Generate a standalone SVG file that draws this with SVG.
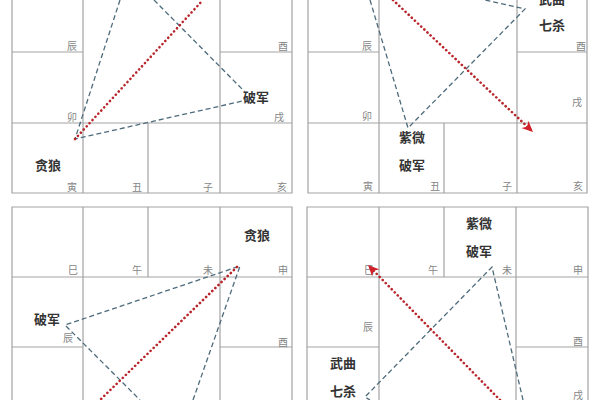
<svg xmlns="http://www.w3.org/2000/svg" width="600" height="400" viewBox="0 0 600 400">
<style>
.grid{stroke:#a3a3a3;stroke-width:1.2;fill:none}
.br{font-family:"Noto Sans CJK SC","Liberation Serif",serif;font-size:10px;fill:#858585;text-anchor:middle}
.star{font-family:"Noto Sans CJK SC","Liberation Sans",sans-serif;font-size:13px;font-weight:bold;fill:#333;text-anchor:middle}
.blue{stroke:#4d6b7b;stroke-width:1.3;fill:none;stroke-dasharray:5 3}
.red{stroke:#b8252b;stroke-width:2.6;fill:none;stroke-dasharray:0.1 4.2;stroke-linecap:round}
</style>
<defs>
<marker id="arr" markerUnits="userSpaceOnUse" markerWidth="12" markerHeight="10" refX="11" refY="5" orient="auto" viewBox="0 0 12 10">
<path d="M0,0 L11,5 L0,10 L3,5 z" fill="#d0222a"/>
</marker>
</defs>
<rect width="600" height="400" fill="#fff"/>

<g id="panel1">
<path class="grid" d="M12,0V193H292V0M83,0V193M220,0V193M148,123V193M12,52H83M220,52H292M12,123H292"/>
<text class="br" x="72" y="50">辰</text>
<text class="br" x="283" y="50">酉</text>
<text class="br" x="72" y="121">卯</text>
<text class="br" x="279" y="121">戌</text>
<text class="br" x="72" y="191">寅</text>
<text class="br" x="137" y="191">丑</text>
<text class="br" x="208" y="191">子</text>
<text class="br" x="282" y="191">亥</text>
<g id="p1-tanlang"><text class="star" x="48" y="170">贪狼</text></g>
<g id="p1-pojun"><text class="star" x="256" y="102">破军</text></g>
</g>

<g id="panel2">
<path class="grid" d="M308,0V193H587V0M379,0V193M517,0V193M444,123V193M308,52H379M517,52H587M308,123H587"/>
<text class="br" x="367" y="50">辰</text>
<text class="br" x="581" y="50">酉</text>
<text class="br" x="367" y="120">卯</text>
<text class="br" x="577" y="106">戌</text>
<text class="br" x="368" y="190">寅</text>
<text class="br" x="435" y="190">丑</text>
<text class="br" x="507" y="190">子</text>
<text class="br" x="578" y="190">亥</text>
<g id="p2-ziwei-pojun"><text class="star" x="412" y="142">紫微</text><text class="star" x="412" y="170">破军</text></g>
<g id="p2-wuqu-qisha"><text class="star" x="552" y="4">武曲</text><text class="star" x="552" y="30">七杀</text></g>
</g>

<g id="panel3">
<path class="grid" d="M12,400V207H292V400M83,207V400M220,207V400M148,207V277M12,277H292M12,347H83M220,347H292"/>
<text class="br" x="73" y="274">巳</text>
<text class="br" x="137" y="274">午</text>
<text class="br" x="208" y="274">未</text>
<text class="br" x="283" y="274">申</text>
<text class="br" x="68" y="342">辰</text>
<text class="br" x="283" y="346">酉</text>
<g id="p3-tanlang"><text class="star" x="257" y="240">贪狼</text></g>
<g id="p3-pojun"><text class="star" x="47" y="324">破军</text></g>
</g>

<g id="panel4">
<path class="grid" d="M307,400V207H588V400M379,207V400M516,207V400M444,207V277M307,277H588M307,347H379M516,347H588"/>
<text class="br" x="369" y="274">巳</text>
<text class="br" x="433" y="274">午</text>
<text class="br" x="507" y="274">未</text>
<text class="br" x="578" y="274">申</text>
<text class="br" x="368" y="331">辰</text>
<text class="br" x="578" y="345">酉</text>
<text class="br" x="578" y="399">戌</text>
<g id="p4-ziwei-pojun"><text class="star" x="479" y="228">紫微</text><text class="star" x="479" y="256">破军</text></g>
<g id="p4-wuqu-qisha"><text class="star" x="343" y="368">武曲</text><text class="star" x="343" y="396">七杀</text></g>
</g>

<g id="connectors">
<path class="blue" d="M120,0L75,139L247,100M154,0L245,92"/>
<path class="red" d="M75,139L203,0"/>
<path class="blue" d="M370,0L408,128L525,9L485,0"/>
<path class="red" d="M393,0L533,132" marker-end="url(#arr)"/>
<path class="blue" d="M193,400L240,266L65,325L140,400"/>
<path class="red" d="M237,267L100,400"/>
<path class="blue" d="M523,400L492,267L365,397L370,400"/>
<path class="red" d="M500,400L368,265" marker-end="url(#arr)"/>
</g>
</svg>
